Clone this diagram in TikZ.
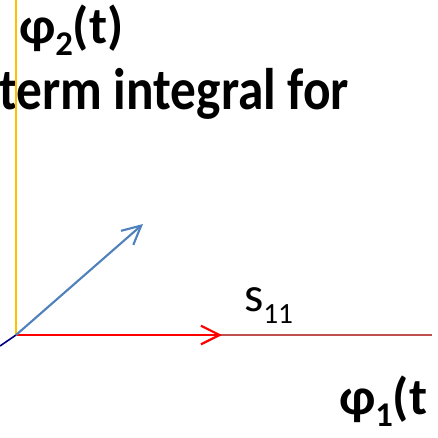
\documentclass[tikz,border=0pt]{standalone}
\usepackage{fontspec}
\setmainfont{Carlito}
\newfontfamily\titlefont[FakeStretch=0.875]{Carlito}
\usetikzlibrary{arrows.meta}
\definecolor{axisyellow}{HTML}{FFC000}
\definecolor{axisred}{HTML}{C0504D}
\definecolor{vecblue}{HTML}{4F81BD}
\definecolor{vecred}{HTML}{FF0000}
\definecolor{navyline}{HTML}{000080}
\newcommand{\phisub}[1]{\raisebox{-9pt}{\fontsize{26pt}{28pt}\selectfont #1}}
\newcommand{\ssub}[1]{\raisebox{-9pt}{\fontsize{22pt}{24pt}\selectfont #1}}
\tikzset{
  lbl/.style={inner sep=0pt, outer sep=0pt, font=\fontsize{37pt}{40pt}\selectfont},
  philbl/.style={inner sep=0pt, outer sep=0pt, font=\fontsize{39pt}{42pt}\selectfont\bfseries},
  titlelbl/.style={inner sep=0pt, outer sep=0pt, font=\titlefont\fontsize{44pt}{46pt}\selectfont\bfseries},
  vec/.style={-{Straight Barb[length=14pt,width=14pt,line width=1.6pt]}},
}
\begin{document}
\begin{tikzpicture}[x=0.75pt,y=-0.75pt]
\useasboundingbox (0,0) rectangle (438,438);
\coordinate (O) at (16,335);
\coordinate (Ytop) at (16,0);
\coordinate (Xend) at (432,335);
\coordinate (Zneg) at (0,346);
\coordinate (S) at (222,335);
\coordinate (V) at (143,224);
\node[titlelbl, anchor=base east] (title) at (349,110) {term integral for};
\draw[axisyellow, line width=1.2pt] (O) -- (Ytop);
\draw[axisred, line width=0.9pt] (O) -- (Xend);
\draw[navyline, line width=1.2pt] (O) -- (Zneg);
\draw[vecred, line width=1.9pt, vec] (O) -- (S);
\draw[vecblue, line width=1.6pt, vec] (O) -- (V);
\node[philbl, anchor=base west] (phi2) at (19,44) {φ\phisub{2}(t)};
\node[lbl, anchor=base west] (s11) at (244,311) {s\ssub{11}};
\node[philbl, anchor=base west] (phi1) at (339,414) {φ\phisub{1}(t};
\end{tikzpicture}
\end{document}
